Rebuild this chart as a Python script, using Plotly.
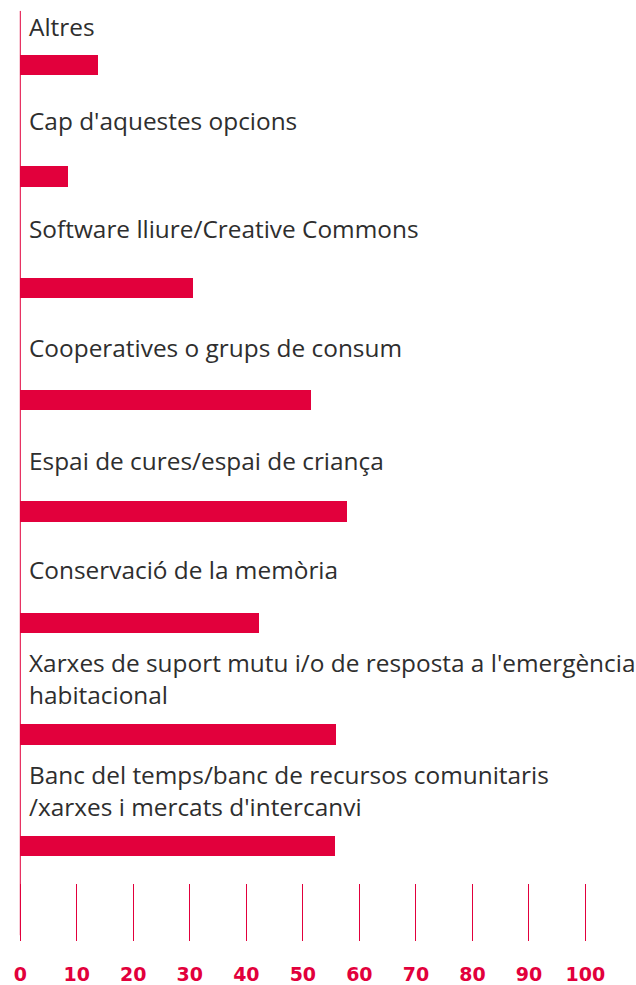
import plotly.graph_objects as go

# Survey answers, top to bottom
categories = [
    "Altres",
    "Cap d'aquestes opcions",
    "Software lliure/Creative Commons",
    "Cooperatives o grups de consum",
    "Espai de cures/espai de criança",
    "Conservació de la memòria",
    "Xarxes de suport mutu i/o de resposta a l'emergència<br>habitacional",
    "Banc del temps/banc de recursos comunitaris<br>/xarxes i mercats d'intercanvi",
]
values = [13.8, 8.5, 30.6, 51.4, 57.8, 42.3, 55.9, 55.7]
tick_values = [0, 10, 20, 30, 40, 50, 60, 70, 80, 90, 100]
tick_labels = ["0", "10", "20", "30", "40", "50", "60", "70", "80", "90", "100"]

RED = "#e2003c"
TEXT = "#2e2e2e"
W, H = 636, 985
H_PLOT = 982.0  # plot-area height used for pixel placement


def paper_y(px):
    """Convert a pixel row (from the top) to a paper fraction."""
    return 1 - px / H_PLOT


positions = list(range(len(categories)))

# vertical distance (px) between each bar centre and the bottom of its label
label_gap_px = [20, 38, 41, 34, 32, 35, 22, 21]

fig = go.Figure()
fig.add_trace(go.Bar(
    x=values,
    y=positions,
    orientation="h",
    width=0.183,
    marker=dict(color=RED, line=dict(width=0)),
    hoverinfo="skip",
))

for pos, label, gap in zip(positions, categories, label_gap_px):
    fig.add_annotation(
        x=0, y=pos, xref="x", yref="y",
        text=label, showarrow=False,
        xanchor="left", yanchor="bottom", align="left",
        xshift=7, yshift=gap,
        font=dict(family="Open Sans", size=24.4, color=TEXT),
    )

# baseline at zero
fig.add_shape(
    type="line", xref="x", yref="paper",
    x0=0, x1=0, y0=paper_y(941), y1=paper_y(11),
    line=dict(color=RED, width=1),
)

BAR_PITCH = 112.26  # px between consecutive bars
FIRST_BAR = 65.5    # px from top to the first bar centre

fig.update_layout(
    width=W, height=H,
    margin=dict(l=0, r=0, t=0, b=0),
    paper_bgcolor="white", plot_bgcolor="white",
    showlegend=False,
    bargap=0,
    xaxis=dict(
        range=[-3.592, 108.95],
        anchor="free", position=paper_y(888),
        tickmode="array", tickvals=tick_values, ticktext=tick_labels,
        ticks="outside", ticklen=57, tickwidth=1, tickcolor=RED,
        ticklabelstandoff=18,
        tickfont=dict(family="DejaVu Sans", size=19, color=RED, weight="bold"),
        showline=False, showgrid=False, zeroline=False,
        fixedrange=True,
    ),
    yaxis=dict(
        range=[(H_PLOT - FIRST_BAR) / BAR_PITCH, -FIRST_BAR / BAR_PITCH],
        visible=False, showgrid=False, zeroline=False,
        fixedrange=True,
    ),
)

fig.write_html("out.html")
